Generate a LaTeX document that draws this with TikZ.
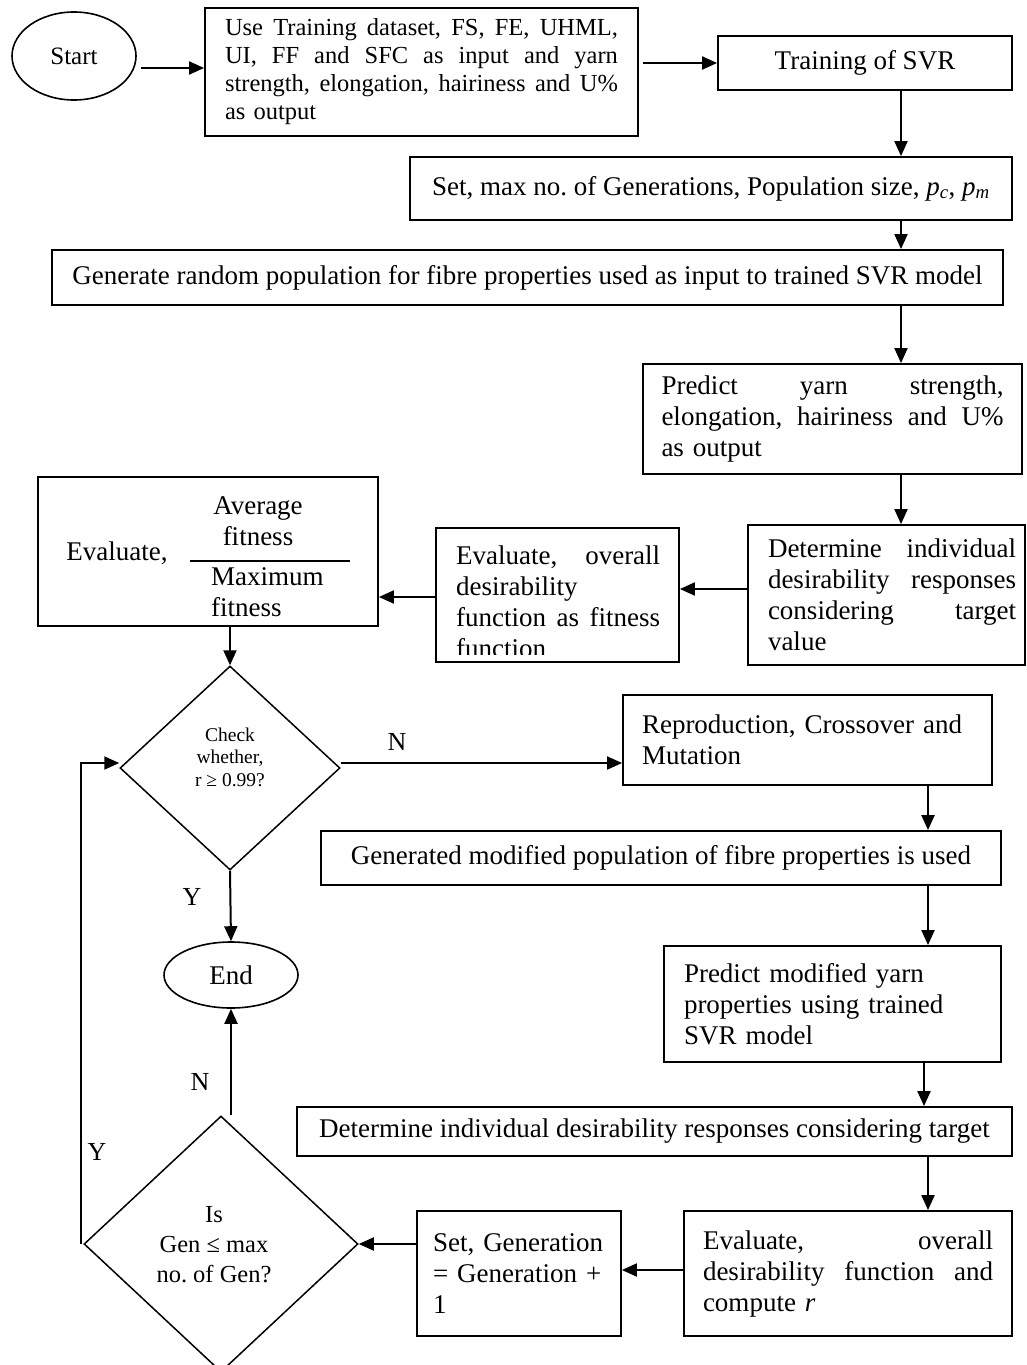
\documentclass[tikz,border=0pt]{standalone}
\usepackage{fontspec}
\setmainfont{Liberation Serif}
\frenchspacing
\usetikzlibrary{shapes.geometric,arrows.meta,calc}
\newcommand\szMain{\fontsize{27pt}{31pt}\selectfont}
\newcommand\szOne{\fontsize{24.5pt}{28pt}\selectfont}
\newcommand\szDia{\fontsize{19.5pt}{22.5pt}\selectfont}
\newcommand\szDiaB{\fontsize{24.5pt}{30pt}\selectfont}
\newcommand\szLab{\fontsize{26pt}{30pt}\selectfont}
\newcommand\jl[2]{\leavevmode\hbox to #1pt{\spaceskip=0.25em plus 1fil\relax\xspaceskip=0.25em plus 1fil\relax #2}}
\begin{document}
\begin{tikzpicture}[x=1pt,y=-1pt,
  box/.style={draw, line width=1.8pt, inner ysep=0pt, inner xsep=0pt, font=\szMain, align=left},
  ell/.style={draw, ellipse, line width=1.6pt, inner sep=0pt, font=\szMain},
  dia/.style={draw, diamond, line width=1.5pt, inner sep=0pt},
  txt/.style={inner sep=0pt, font=\szMain},
  arr/.style={line width=2pt, -{Triangle[length=15pt,width=13pt]}}]
\useasboundingbox (0,0) rectangle (1026,1365);
\fill[white] (0,0) rectangle (1026,1365);
\clip (0,0) rectangle (1026,1365);

% top row
\node[ell, minimum width=124pt, minimum height=88pt, font=\fontsize{25pt}{30pt}\selectfont] (start) at (74,56) {Start};
\node[box, text width=393pt, inner xsep=20pt, minimum height=128pt, font=\szOne] (b1) at (421.5,72)
  {\jl{393}{Use Training dataset, FS, FE, UHML,}\\\jl{393}{UI, FF and SFC as input and yarn}\\\jl{393}{strength, elongation, hairiness and U\%}\\as output};
\node[box, minimum width=294pt, minimum height=54pt] (train) at (865,63) {Training of SVR};
\node[box, minimum width=602pt, minimum height=63pt] (setb) at (711,188.5)
  {Set, max no. of Generations, Population size, \textit{p}\textsubscript{\textit{c}}, \textit{p}\textsubscript{\textit{m}}};
\node[box, minimum width=951pt, minimum height=55pt] (gen) at (527.5,277.5)
  {Generate random population for fibre properties used as input to trained SVR model};
\node[box, text width=342pt, inner xsep=18.5pt, minimum height=110pt] (pred) at (832.5,419)
  {\jl{342}{Predict yarn strength,}\\\jl{342}{elongation, hairiness and U\%}\\as output};
\node[box, text width=255pt, inner xsep=11pt, minimum height=140pt] (det) at (886.5,595)
  {\hspace*{9pt}\jl{248}{Determine individual}\\\hspace*{9pt}\jl{248}{desirability responses}\\\hspace*{9pt}\jl{248}{considering target}\\\hspace*{9pt}value};

% evaluate overall (text clipped at bottom)
\node[box, minimum width=243pt, minimum height=134pt] (evo) at (557.5,595) {};
\begin{scope}
  \clip (437,529) rectangle (678,654);
  \node[txt, anchor=north west, text width=204pt, align=left] (evot) at (456,546)
    {\jl{204}{Evaluate, overall}\\desirability\\\jl{204}{function as fitness}\\function};
\end{scope}

% evaluate fitness ratio
\node[box, minimum width=340pt, minimum height=149pt] (fitb) at (208,551.5) {};
\node[txt] (fitlbl) at (117,553) {Evaluate,};
\node[txt, align=center] (fitnum) at (258,521) {Average\\fitness};
\node[txt, align=left, anchor=west] (fitden) at (211,592) {Maximum\\fitness};
\coordinate (ruleL) at (190,561);
\coordinate (ruleR) at (350,561);
\draw[line width=1.5pt] (ruleL) -- (ruleR);

% decision 1
\node[dia, minimum width=220pt, minimum height=204pt] (d1) at (230,768) {};
\node[txt, font=\szDia, align=center] (d1t) at (230,757) {Check\\whether,\\r ≥ 0.99?};

% right column lower
\node[box, text width=331pt, inner xsep=19pt, minimum height=90pt] (rep) at (807.5,740)
  {Reproduction, Crossover and\\Mutation};
\node[box, minimum width=680pt, minimum height=54pt] (genmod) at (661,858)
  {Generated modified population of fibre properties is used};
\node[box, text width=297pt, inner xsep=20pt, minimum height=116pt] (predmod) at (832.5,1004)
  {Predict modified yarn\\properties using trained\\SVR model};
\node[box, minimum width=715pt, minimum height=49pt] (det2) at (654.5,1131.5)
  {Determine individual desirability responses considering target};
\node[box, text width=290pt, inner xsep=19pt, minimum height=125pt] (evo2) at (848,1273.5)
  {\jl{290}{Evaluate, overall}\\\jl{290}{desirability function and}\\compute \textit{r}};
\node[box, text width=172pt, inner xsep=16pt, minimum height=125pt] (setg) at (519,1273.5)
  {\mbox{Set, Generation}\\\mbox{= Generation +}\\1};

% decision 2 and end
\node[dia, minimum width=274pt, minimum height=256pt] (d2) at (221,1244) {};
\node[txt, font=\szDiaB, align=center] (d2t) at (214,1245) {Is\\Gen ≤ max\\no. of Gen?};
\node[ell, minimum width=134pt, minimum height=66pt] (endn) at (231,975) {End};

% labels
\node[txt, font=\szLab] (lN1) at (397,742) {N};
\node[txt, font=\szLab] (lY1) at (192,897) {Y};
\node[txt, font=\szLab] (lN2) at (200,1082) {N};
\node[txt, font=\szLab] (lY2) at (97,1152) {Y};

% connectors
\coordinate (cx1) at (901,0);
\coordinate (cx2) at (928,0);
\coordinate (cx3) at (924,0);
\coordinate (cx4) at (231,0);
\coordinate (cy1) at (0,589);
\coordinate (cy2) at (0,597);
\coordinate (cy3) at (0,1270);
\draw[arr] ([xshift=4pt,yshift=-12pt]start.east) -- ([yshift=-12pt]start.east -| b1.west);
\draw[arr] ([xshift=4pt,yshift=9pt]b1.east) -- ([yshift=9pt]b1.east -| train.west);
\draw[arr] (train.south -| cx1) -- (setb.north -| cx1);
\draw[arr] (setb.south -| cx1) -- (gen.north -| cx1);
\draw[arr] (gen.south -| cx1) -- (pred.north -| cx1);
\draw[arr] (pred.south -| cx1) -- (det.north -| cx1);
\draw[arr] (det.west |- cy1) -- (evo.east |- cy1);
\draw[arr] (evo.west |- cy2) -- (fitb.east |- cy2);
\draw[arr] (fitb.south -| d1.north) -- (d1.north);
\draw[arr] ([yshift=5pt]d1.east) -- ([yshift=5pt]d1.east -| rep.west);
\draw[arr] (rep.south -| cx2) -- (genmod.north -| cx2);
\draw[arr] (genmod.south -| cx2) -- (predmod.north -| cx2);
\draw[arr] (predmod.south -| cx3) -- (det2.north -| cx3);
\draw[arr] (det2.south -| cx2) -- (evo2.north -| cx2);
\draw[arr] (evo2.west |- cy3) -- (setg.east |- cy3);
\draw[arr] (setg.west |- d2.east) -- (d2.east);
\draw[arr] (d1.south) -- (endn.north);
\draw[arr] (d2.north -| cx4) -- (endn.south -| cx4);
\draw[arr] ([xshift=-2pt]d2.west) |- ([yshift=5pt]d1.west);
\end{tikzpicture}
\end{document}
